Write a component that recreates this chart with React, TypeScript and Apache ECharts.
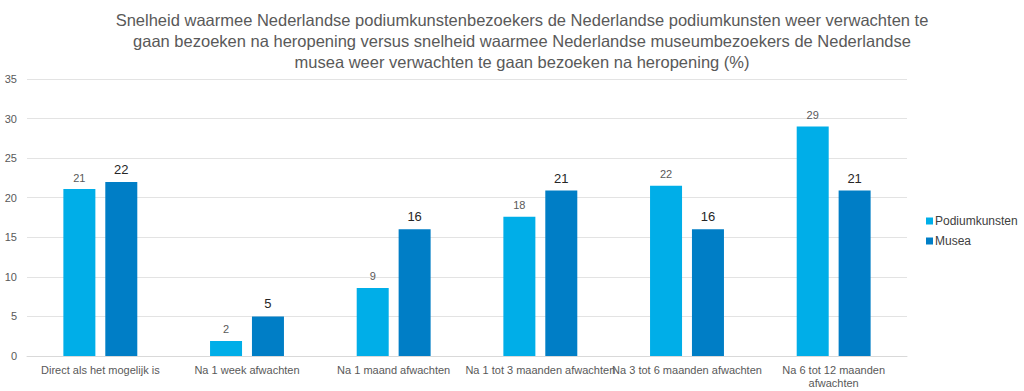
import React, { useEffect, useRef } from "react";
import * as echarts from "echarts";

const categories = [
  "Direct als het mogelijk is",
  "Na 1 week afwachten",
  "Na 1 maand afwachten",
  "Na 1 tot 3 maanden afwachten",
  "Na 3 tot 6 maanden afwachten",
  "Na 6 tot 12 maanden\nafwachten",
];
const podiumkunsten = [21.1, 1.9, 8.6, 17.6, 21.5, 29.0];
const musea = [22.0, 5.0, 16.0, 20.9, 16.0, 20.9];
const yTicks = { min: 0, max: 35, interval: 5 };

const FONT = "'Liberation Sans', Arial, sans-serif";

export default function App() {
  const ref = useRef<HTMLDivElement>(null);
  useEffect(() => {
    document.body.style.margin = "0";
    if (!ref.current) return;
    const chart = echarts.init(ref.current, undefined, { renderer: "svg" });
    chart.setOption({
      animation: false,
      textStyle: { fontFamily: FONT },
      title: {
        text:
          "Snelheid waarmee Nederlandse podiumkunstenbezoekers de Nederlandse podiumkunsten weer verwachten te\ngaan bezoeken na heropening versus snelheid waarmee Nederlandse museumbezoekers de Nederlandse\nmusea weer verwachten te gaan bezoeken na heropening (%)",
        left: 517,
        textAlign: "center",
        top: 4,
        textStyle: {
          fontFamily: FONT,
          fontSize: 16.5,
          fontWeight: "normal",
          color: "#595959",
          lineHeight: 21,
        },
      },
      legend: {
        orient: "vertical",
        left: 921,
        top: 210,
        itemWidth: 7,
        itemHeight: 7,
        itemGap: 8,
        icon: "rect",
        textStyle: { fontFamily: FONT, fontSize: 12, color: "#404040", padding: [0, 0, 0, -3] },
        data: ["Podiumkunsten", "Musea"],
      },
      grid: { left: 27, right: 117, top: 79, bottom: 35, containLabel: false },
      xAxis: {
        type: "category",
        data: categories,
        axisTick: { show: false },
        axisLine: { lineStyle: { color: "#d9d9d9" } },
        axisLabel: {
          interval: 0,
          fontFamily: FONT,
          fontSize: 11,
          color: "#595959",
          margin: 7,
          lineHeight: 13,
        },
      },
      yAxis: {
        type: "value",
        min: yTicks.min,
        max: yTicks.max,
        interval: yTicks.interval,
        axisLine: { show: false },
        axisTick: { show: false },
        splitLine: { lineStyle: { color: "#e3e3e3" } },
        axisLabel: { fontFamily: FONT, fontSize: 11, color: "#595959", margin: 10 },
      },
      series: [
        {
          name: "Podiumkunsten",
          type: "bar",
          data: podiumkunsten,
          barWidth: 32,
          barGap: "31%",
          itemStyle: { color: "#00aee8" },
          label: {
            show: true,
            position: "top",
            distance: 6,
            fontFamily: FONT,
            fontSize: 11,
            color: "#595959",
            formatter: (p: any) => String(Math.round(p.value)),
          },
        },
        {
          name: "Musea",
          type: "bar",
          data: musea,
          barWidth: 32,
          itemStyle: { color: "#007ec6" },
          label: {
            show: true,
            position: "top",
            distance: 6,
            fontFamily: FONT,
            fontSize: 13,
            color: "#262626",
            formatter: (p: any) => String(Math.round(p.value)),
          },
        },
      ],
    });
    return () => chart.dispose();
  }, []);
  return <div ref={ref} style={{ width: 1024, height: 391 }} />;
}
